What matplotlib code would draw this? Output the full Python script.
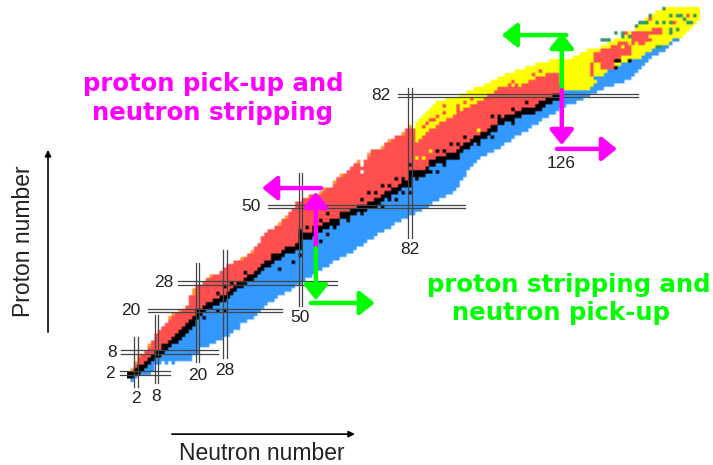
import numpy as np
import matplotlib
matplotlib.use('Agg')
import matplotlib.pyplot as plt

# columns of the chart, index = neutron number, values = proton number
blue_lo = [1,0,1,2,2,2,2,3,5,5,
           6,5,6,5,6,6,6,6,6,8,
           8,10,10,10,11,11,12,12,13,13,
           14,15,15,17,17,18,18,19,20,21,
           22,23,23,24,25,25,26,26,27,28,
           28,29,30,30,31,32,32,33,33,34,
           35,35,36,36,37,37,38,39,39,40,
           41,41,42,43,43,44,44,45,46,46,
           47,47,48,48,49,49,50,50,51,52,
           52,53,53,54,54,55,56,58,59,61,
           62,63,64,65,65,66,66,67,67,68,
           69,69,70,71,71,72,72,73,74,74,
           75,76,76,77,77,78,79,79,80,80,
           80,81,81,82,82,83,83,84,84,85,
           85,85,86,86,86,87,87,88,89,90,
           91,92,93,94,94,95,95,96,97,98,98]
stable_lo = [1,1,2,2,3,4,5,6,7,7,
             8,9,10,11,11,12,13,14,15,16,
             18,19,20,21,21,22,22,23,23,24,
             25,26,27,27,28,29,29,30,31,32,
             33,33,34,35,35,36,37,37,37,38,
             38,41,41,41,42,43,43,44,44,45,
             45,45,47,47,47,48,48,49,49,49,
             50,50,51,51,52,53,53,54,54,55,
             56,56,56,59,59,59,59,60,62,62,
             63,63,63,64,64,64,65,66,67,67,
             68,69,69,70,70,71,72,72,74,74,
             75,75,75,76,76,77,77,77,77,78,
             79,79,80,80,81,81,81]
stable_hi = [2,2,3,4,4,5,6,7,8,8,
             10,10,11,12,13,14,15,16,17,18,
             20,20,21,22,22,23,23,24,24,25,
             26,27,28,28,29,30,30,31,32,33,
             34,34,35,36,36,37,38,38,38,39,
             42,42,42,42,43,44,44,45,45,46,
             46,46,48,48,48,49,49,50,50,50,
             51,51,52,52,53,54,54,55,55,56,
             57,57,60,60,60,60,60,61,63,63,
             64,64,64,65,65,65,66,67,68,68,
             69,70,70,71,71,72,73,73,75,75,
             76,76,76,77,77,78,78,78,78,79,
             80,80,81,81,82,82,82]
red_hi = [2,3,4,6,7,8,9,11,13,14,
          15,16,17,18,19,19,20,21,24,26,
          27,27,28,29,29,30,30,31,32,33,
          33,34,34,34,35,36,36,38,39,41,
          42,43,43,44,44,46,46,48,49,51,
          51,52,52,53,53,53,53,54,55,55,
          56,58,58,59,60,61,62,62,62,63,
          64,66,66,66,66,68,68,69,70,70,
          70,72,72,72,68,69,70,71,72,72,
          73,74,74,75,75,76,77,77,78,78,
          79,79,80,80,81,82,82,83,84,84,
          84,85,84,85,84,85,85,86,86,87,
          87,87,88,88,88,88,85]

# right of N=126
blue_hi_n = list(range(127, 161))
blue_hi = [83,83,83,83,83,83,83,83,84,87,87,87,88,89,89,90,90,91,91,91,
           92,92,92,93,94,94,95,95,95,96,96,97,98,98]
red_far_n = list(range(135, 156))
red_far_lo = [88,92,92,90,90,90,90,93,93,94,94,94,97,97,97,97,98,98,100,100,100]
red_far_hi = [91,94,94,95,95,95,96,96,97,97,97,97,100,100,100,100,100,100,101,101,101]

yellow_n = list(range(84, 167))
yellow_top = [74,75,76,77,78,79,
              80,80,80,81,81,81,81,82,82,83,
              83,84,84,84,85,85,86,86,87,87,
              88,88,88,89,89,89,90,90,90,91,
              91,91,91,92,92,92,92,92,92,92,
              93,93,94,94,95,95,95,95,96,96,
              97,97,98,98,99,99,100,100,101,102,
              103,104,105,105,106,106,107,107,107,107,
              107,107,107,107,107,107,107]
yellow_end_n = [161,162,163,164,165,166]
yellow_end_lo = [99,100,101,102,103,104]

orange_n = [1,2,3,6,12,13,15,19,19,24,33,36,44,46,56,57,60,62,67,70,74,76,80,82]
orange_z = [3,5,7,10,18,19,20,25,26,30,35,37,45,47,54,55,57,59,63,65,67,69,71,73]
white_n = [68,68]
white_z = [60,62]
yellow_dot_n = [84,86,88,102,138,136,144,150,152,146,148]
yellow_dot_z = [64,64,66,72,88,86,96,94,99,97,97]
red_dot_n = [86,87,88,89,90,92,92,96,96,98,98,100,100,112,118,120,145,159,163,152]
red_dot_z = [73,74,75,75,76,77,79,78,79,78,80,78,81,86,88,89,100,103,105,104]
green_n = [138,139,140,142,144,144,146,148,149,150,151,152,154,156,156,158,160,161,162,163,164,158,158,158,160,165,155,154]
green_z = [98,98,98,100,100,99,99,102,103,103,103,105,103,103,107,105,105,105,104,103,103,100,101,103,101,105,96,96]
black_dot_n = [26,30,28,34,40,42,46,50,52,54,56,58,68,70,72,74,76,78,80,82,90,92,94,96,98,106,108,112,116,
               22,26,28,44,48,50,56,58,60,64,68,72,74,76,78,80,82,84,88,90,92,96,102,106,112,120,
               142,143,146,142]
black_dot_z = [25,28,27,31,34,36,38,43,44,44,46,48,52,54,54,56,56,58,58,62,66,66,68,68,70,76,76,78,80,
               18,20,20,32,34,36,40,42,44,46,48,50,50,52,52,54,54,58,60,60,62,64,68,70,74,78,
               92,92,92,90]

# magic numbers, double lines
magic_h = [2,8,20,28,50,82]
h_from = [-2.6,-2.3,5.5,14.3,40.5,78.4]
h_to = [12,26,44.6,60.6,98,148.4]
magic_v = [2,8,20,28,50,82]
v_from = [-2,-0.9,5.2,6.3,21.3,41]
v_to = [12.4,18.7,33.7,37.5,59.7,84]

left_labels = ['2','8','20','28','50','82']
left_n = [-5.5,-5,0.6,10.2,35.6,73.5]
bottom_labels = ['2','8','20','28','50','82','126']
bottom_n = [2,8,20,28,50,82,126]
bottom_z = [-5.2,-4.9,1.4,2.6,17.9,37.5,62.5]

BLUE = (0.2,0.6,1.0)
RED = (1.0,0.31,0.31)
YELLOW = (1.0,1.0,0.0)
ORANGE = (1.0,0.6,0.2)
GREEN = (0.2,0.6,0.4)

img = np.ones((111,172,3))

for i,n in enumerate(yellow_n):
    if n <= 126:
        img[red_hi[n]+1:yellow_top[i]+1,n] = YELLOW
    elif n <= 160:
        img[blue_hi[n-127]+1:yellow_top[i]+1,n] = YELLOW
for i,n in enumerate(yellow_end_n):
    img[yellow_end_lo[i]:108,n] = YELLOW
for n in range(len(stable_lo)):
    img[stable_hi[n]+1:red_hi[n]+1,n] = RED
    img[blue_lo[n]:stable_lo[n],n] = BLUE
for i,n in enumerate(blue_hi_n):
    img[blue_lo[n]:blue_hi[i]+1,n] = BLUE
for i,n in enumerate(red_far_n):
    img[red_far_lo[i]:red_far_hi[i]+1,n] = RED
for n,z in zip(orange_n,orange_z):
    img[z,n] = ORANGE
for n,z in zip(white_n,white_z):
    img[z,n] = (1,1,1)
for n,z in zip(yellow_dot_n,yellow_dot_z):
    img[z,n] = YELLOW
for n,z in zip(red_dot_n,red_dot_z):
    img[z,n] = RED
for n,z in zip(green_n,green_z):
    img[z,n] = GREEN
for n in range(len(stable_lo)):
    img[stable_lo[n]:stable_hi[n]+1,n] = (0,0,0)
for n,z in zip(black_dot_n,black_dot_z):
    img[z,n] = (0,0,0)

# each cell doubled so the smoothing stays about one pixel wide
img = np.repeat(np.repeat(img,2,axis=0),2,axis=1)

fig = plt.figure(figsize=(7.13,4.65),dpi=100)
ax = fig.add_axes([0,0,1,1])
ax.imshow(img,origin='lower',extent=(-0.5,171.5,-0.5,110.5),interpolation='bilinear',aspect='auto',zorder=1)
ax.set_xlim(-37.6,170.3)
ax.set_ylim(-24.5,109.5)
ax.axis('off')

for z,a,b in zip(magic_h,h_from,h_to):
    ax.plot([a,b],[z-0.5,z-0.5],color='#444444',lw=0.9,zorder=2)
    ax.plot([a,b],[z+0.5,z+0.5],color='#444444',lw=0.9,zorder=2)
for n,a,b in zip(magic_v,v_from,v_to):
    ax.plot([n-0.5,n-0.5],[a,b],color='#444444',lw=0.9,zorder=2)
    ax.plot([n+0.5,n+0.5],[a,b],color='#444444',lw=0.9,zorder=2)

for s,n,z in zip(left_labels,left_n,magic_h):
    ax.text(n,z,s,fontsize=12.5,family='Liberation Sans',color='#222222',ha='center',va='center',zorder=5)
for s,n,z in zip(bottom_labels,bottom_n,bottom_z):
    ax.text(n,z,s,fontsize=12.5,family='Liberation Sans',color='#222222',ha='center',va='center',zorder=5)

def arrow(x0,y0,x1,y1,c):
    ax.annotate('',xy=(x1,y1),xytext=(x0,y0),zorder=4,
                arrowprops=dict(arrowstyle='-|>,head_length=0.5,head_width=0.4',lw=3.2,color=c,
                                mutation_scale=18,shrinkA=0,shrinkB=0))

MAGENTA = '#ff00ff'
LIME = '#00ff00'
arrow(54.5,38,54.5,54.2,MAGENTA)
arrow(56,55.3,38.8,55.3,MAGENTA)
arrow(54.5,38,54.5,23,LIME)
arrow(53,22.2,71.7,22.2,LIME)
arrow(126.2,83.6,126.2,100,LIME)
arrow(127.5,99.4,108.7,99.4,LIME)
arrow(126.2,83.6,126.2,67.7,MAGENTA)
arrow(124.8,66.6,142.3,66.6,MAGENTA)

# axis arrows
ax.annotate('',xy=(65.9,-15.6),xytext=(12.5,-15.6),
            arrowprops=dict(arrowstyle='-|>',lw=1.2,color='black',mutation_scale=9,shrinkA=0,shrinkB=0))
ax.annotate('',xy=(-23.6,66.3),xytext=(-23.6,13.8),
            arrowprops=dict(arrowstyle='-|>',lw=1.2,color='black',mutation_scale=9,shrinkA=0,shrinkB=0))
fig.text(262/713,1-453/465,'Neutron number',fontsize=16.5,family='Liberation Sans',color='#222222',ha='center',va='center')
fig.text(24/713,1-241/465,'Proton number',fontsize=16.5,family='Liberation Sans',color='#222222',ha='center',va='center',rotation=90)

fig.text(213/713,1-84/465,'proton pick-up and',fontsize=17.6,fontweight='bold',color=MAGENTA,ha='center',va='center')
fig.text(212/713,1-113/465,'neutron stripping',fontsize=17.6,fontweight='bold',color=MAGENTA,ha='center',va='center')
fig.text(569/713,1-285/465,'proton stripping and',fontsize=17.6,fontweight='bold',color=LIME,ha='center',va='center')
fig.text(561/713,1-313/465,'neutron pick-up',fontsize=17.6,fontweight='bold',color=LIME,ha='center',va='center')

fig.savefig('out.png',dpi=100)
